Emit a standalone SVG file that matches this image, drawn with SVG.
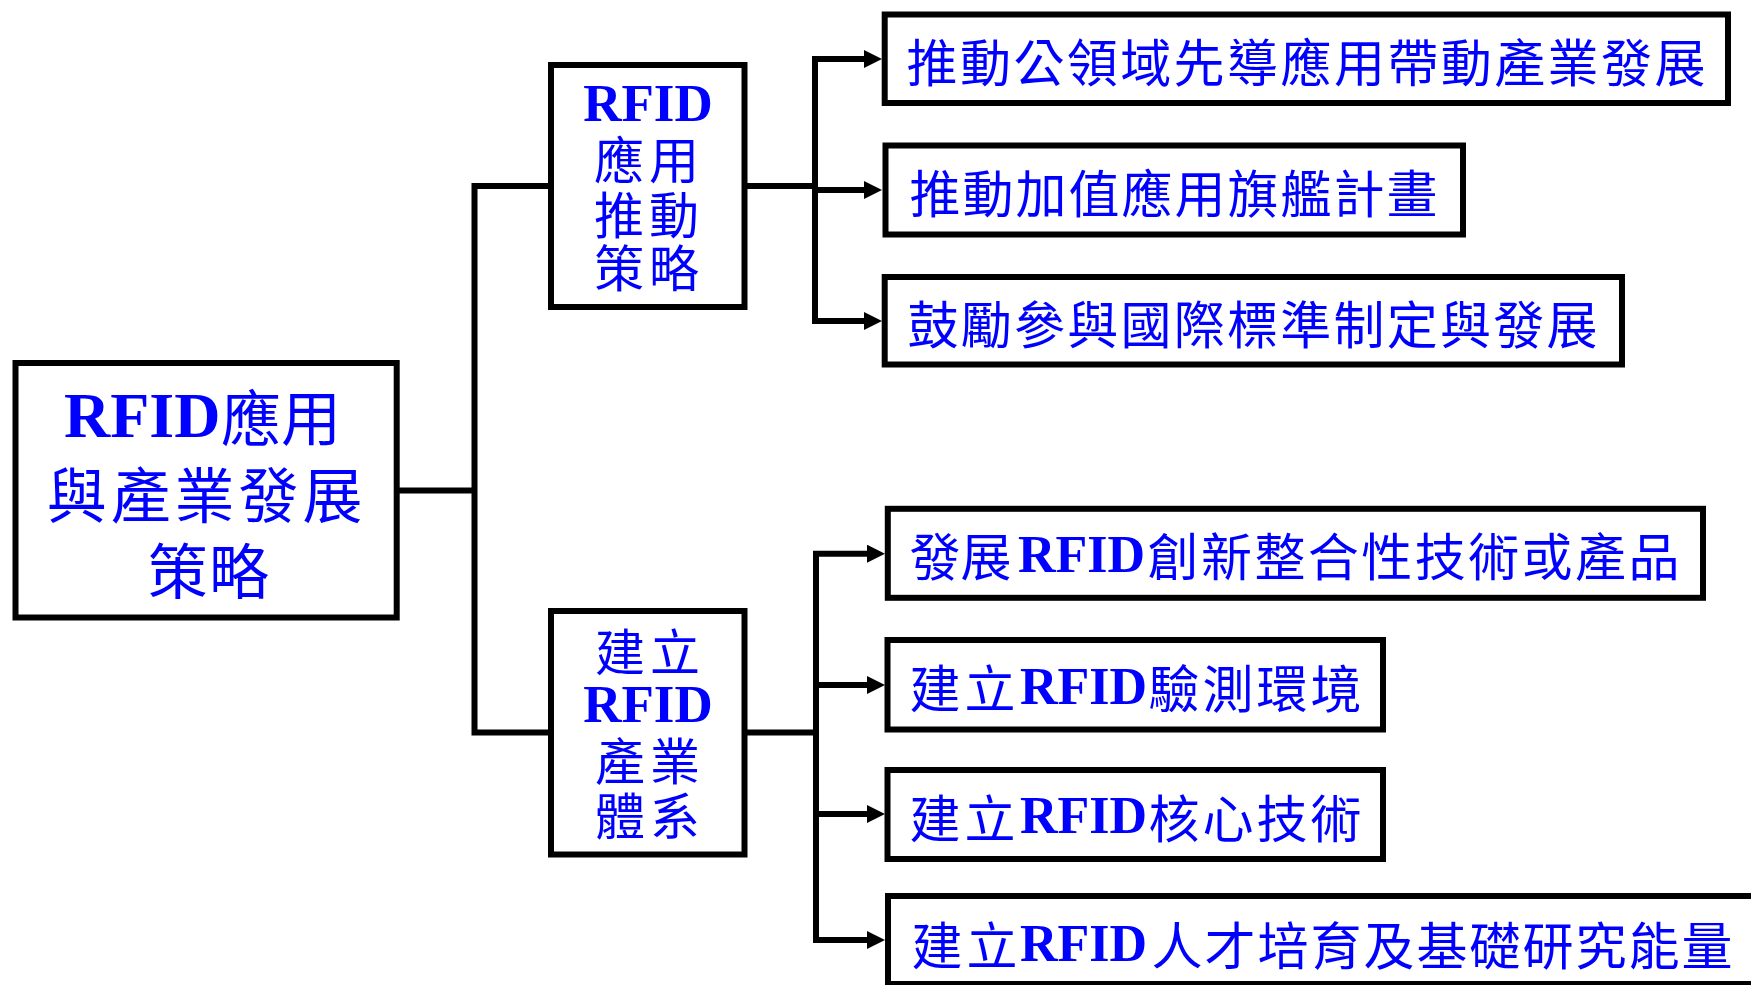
<svg xmlns="http://www.w3.org/2000/svg" width="1751" height="985" viewBox="0 0 1751 985">
<style>
.box{fill:#FFFFFF;stroke:#000000;stroke-width:6}
.ln{fill:none;stroke:#000000;stroke-width:6;stroke-linejoin:miter}
.cjk{font-family:"Noto Sans CJK TC","Noto Sans CJK SC",sans-serif;fill:#0000FF;text-anchor:middle}
.lat{font-family:"Liberation Serif","Times New Roman",serif;font-weight:bold;fill:#0000FF}
.s60{font-size:60px}.s50{font-size:50px}.s51{font-size:51px}
</style>
<defs>
<marker id="arr" markerUnits="userSpaceOnUse" markerWidth="18" markerHeight="18" refX="6" refY="9" orient="auto-start-reverse">
<path d="M0,0 L18,9 L0,18 Z" fill="#000000"/>
</marker>
</defs>
<rect width="1751" height="985" fill="#FFFFFF"/>
<g id="connectors">
<path class="ln" d="M396.7,490.5 H474.5"/>
<path class="ln" d="M551,186 H474.5 V732.5 H551"/>
<path class="ln" d="M744.5,186 H815"/>
<path class="ln" d="M870,59 H815 V321 H870" marker-start="url(#arr)" marker-end="url(#arr)"/>
<path class="ln" d="M815,190 H870" marker-end="url(#arr)"/>
<path class="ln" d="M744.5,732.5 H816"/>
<path class="ln" d="M873,553.7 H816 V940 H873" marker-start="url(#arr)" marker-end="url(#arr)"/>
<path class="ln" d="M816,685 H873" marker-end="url(#arr)"/>
<path class="ln" d="M816,814 H873" marker-end="url(#arr)"/>
</g>
<g id="main">
<rect class="box" x="15.5" y="363" width="381.2" height="254.5"/>
<text class="lat" x="64" y="437" style="font-size:64px">RFID</text>
<text class="cjk s60" x="251 311" y="441">應用</text>
<text class="cjk s60" x="76.7 140.7 204.6 268.6 332.5" y="518">與產業發展</text>
<text class="cjk s60" x="177.5 239" y="594">策略</text>
</g>
<g id="app-strategy">
<rect class="box" x="551" y="65" width="193.5" height="242"/>
<text class="lat" x="648" y="121" text-anchor="middle" style="font-size:53px">RFID</text>
<text class="cjk s50" x="619 674" y="178.5">應用</text>
<text class="cjk s50" x="619 674" y="234">推動</text>
<text class="cjk s50" x="619 674" y="287">策略</text>
</g>
<g id="industry-system">
<rect class="box" x="551" y="611" width="193.5" height="243.5"/>
<text class="cjk s50" x="620 675" y="671">建立</text>
<text class="lat" x="648" y="722" text-anchor="middle" style="font-size:53px">RFID</text>
<text class="cjk s50" x="620 675" y="780">產業</text>
<text class="cjk s50" x="620 675" y="834.5">體系</text>
</g>
<g id="a1">
<rect class="box" x="884.7" y="14.5" width="843.3" height="88.5"/>
<text class="cjk s51" x="932 985.4 1038.9 1092.3 1145.7 1199.1 1252.6 1306 1359.4 1412.9 1466.3 1519.7 1573.1 1626.6 1680" y="82">推動公領域先導應用帶動產業發展</text>
</g>
<g id="a2">
<rect class="box" x="885.5" y="145.5" width="577.5" height="89"/>
<text class="cjk s51" x="935 988 1041 1094 1147 1200 1253 1306 1359 1412" y="213.4">推動加值應用旗艦計畫</text>
</g>
<g id="a3">
<rect class="box" x="884.7" y="277" width="737.3" height="87.5"/>
<text class="cjk s51" x="933 986.25 1039.5 1092.75 1146 1199.25 1252.5 1305.75 1359 1412.25 1465.5 1518.75 1572" y="344.4">鼓勵參與國際標準制定與發展</text>
</g>
<g id="b1">
<rect class="box" x="887.8" y="508.8" width="815.2" height="89"/>
<text class="cjk s51" x="935 986" y="576.4">發展</text>
<text class="lat" x="1018" y="572" style="font-size:52px">RFID</text>
<text class="cjk s51" x="1173 1226.4 1279.9 1333.3 1386.8 1440.2 1493.7 1547.1 1600.6 1654" y="576.4">創新整合性技術或產品</text>
</g>
<g id="b2">
<rect class="box" x="887.5" y="640" width="495.5" height="89.5"/>
<text class="cjk s51" x="935 990" y="708">建立</text>
<text class="lat" x="1020" y="704" style="font-size:52px">RFID</text>
<text class="cjk s51" x="1174 1228 1282 1336" y="708">驗測環境</text>
</g>
<g id="b3">
<rect class="box" x="887.5" y="770" width="495.5" height="89"/>
<text class="cjk s51" x="935 990" y="838">建立</text>
<text class="lat" x="1020" y="833" style="font-size:52px">RFID</text>
<text class="cjk s51" x="1174 1228 1282 1336" y="838">核心技術</text>
</g>
<g id="b4">
<rect class="box" x="888" y="896" width="880" height="88"/>
<text class="cjk s51" x="937 992" y="964.5">建立</text>
<text class="lat" x="1020" y="961" style="font-size:52px">RFID</text>
<text class="cjk s51" x="1177 1230 1283 1336 1389 1442 1495 1548 1601 1654 1707" y="964.5">人才培育及基礎研究能量</text>
</g>
</svg>
